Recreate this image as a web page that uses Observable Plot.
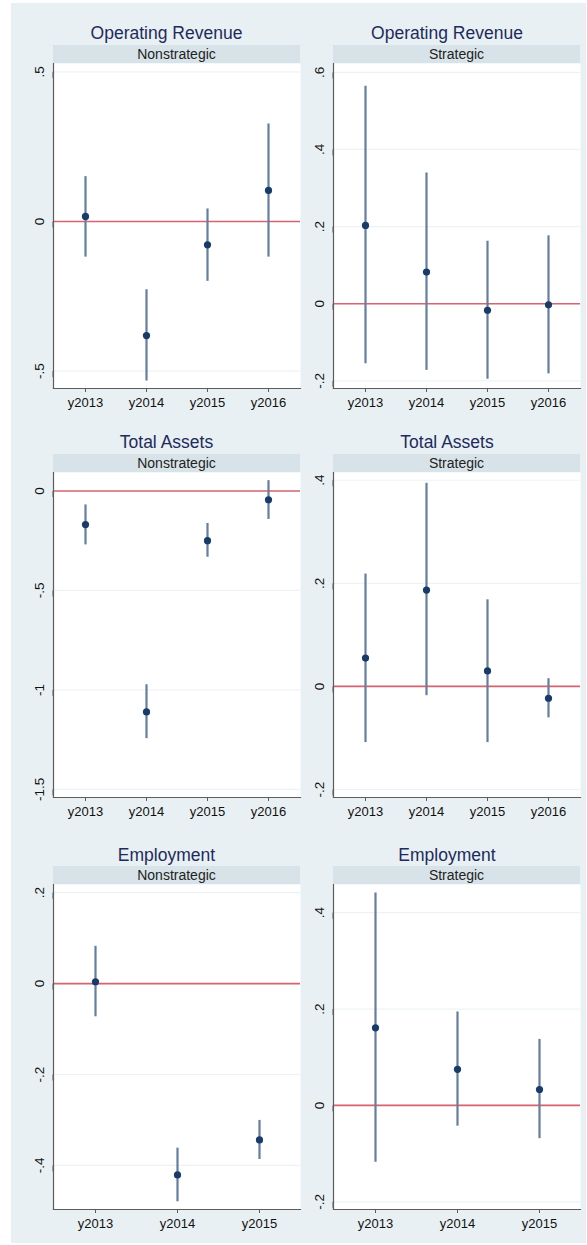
<!DOCTYPE html>
<html><head><meta charset="utf-8">
<script src="https://cdn.jsdelivr.net/npm/d3@7"></script>
<script src="https://cdn.jsdelivr.net/npm/@observablehq/plot@0.6"></script>
<style>
body{margin:0;background:#fff;font-family:"Liberation Sans",Arial,sans-serif;}
#root{position:relative;width:587px;height:1245px;overflow:hidden;}
#bg{position:absolute;left:11px;top:3px;width:575px;height:1240px;background:#e9f0f3;}
.title{position:absolute;width:320px;text-align:center;font-size:17.5px;line-height:20px;color:#1d2b5c;white-space:nowrap;}
.strip{position:absolute;height:18px;line-height:18px;text-align:center;font-size:14px;color:#222;background:#d8e3e9;white-space:nowrap;}
</style></head><body><div id="root"><div id="bg"></div></div>
<script>
// ---------- data ----------
const outcomes = ["Operating Revenue", "Total Assets", "Employment"];
const groups = ["Nonstrategic", "Strategic"];
const years4 = ["y2013", "y2014", "y2015", "y2016"];
const years3 = ["y2013", "y2014", "y2015"];

// Operating Revenue
const orNonEst = [0.017, -0.381, -0.078, 0.104];
const orNonLo  = [-0.119, -0.533, -0.200, -0.119];
const orNonHi  = [0.150, -0.228, 0.042, 0.326];
const orStrEst = [0.203, 0.082, -0.017, -0.003];
const orStrLo  = [-0.156, -0.173, -0.196, -0.182];
const orStrHi  = [0.564, 0.339, 0.162, 0.176];
// Total Assets
const taNonEst = [-0.169, -1.111, -0.250, -0.044];
const taNonLo  = [-0.271, -1.245, -0.333, -0.143];
const taNonHi  = [-0.070, -0.974, -0.163, 0.052];
const taStrEst = [0.055, 0.187, 0.030, -0.023];
const taStrLo  = [-0.109, -0.018, -0.109, -0.061];
const taStrHi  = [0.218, 0.394, 0.168, 0.015];
// Employment
const emNonEst = [0.004, -0.421, -0.344];
const emNonLo  = [-0.073, -0.480, -0.387];
const emNonHi  = [0.082, -0.362, -0.301];
const emStrEst = [0.161, 0.075, 0.033];
const emStrLo  = [-0.118, -0.043, -0.069];
const emStrHi  = [0.441, 0.194, 0.137];

// tick values and labels
const orNonTicks = [-0.5, 0, 0.5];           const orNonTickLabels = ["-.5", "0", ".5"];
const orStrTicks = [-0.2, 0, 0.2, 0.4, 0.6]; const orStrTickLabels = ["-.2", "0", ".2", ".4", ".6"];
const taNonTicks = [-1.5, -1, -0.5, 0];      const taNonTickLabels = ["-1.5", "-1", "-.5", "0"];
const taStrTicks = [-0.2, 0, 0.2, 0.4];      const taStrTickLabels = ["-.2", "0", ".2", ".4"];
const emNonTicks = [-0.4, -0.2, 0, 0.2];     const emNonTickLabels = ["-.4", "-.2", "0", ".2"];
const emStrTicks = [-0.2, 0, 0.2, 0.4];      const emStrTickLabels = ["-.2", "0", ".2", ".4"];

// ---------- layout ----------
const plotW = 247, plotH = 325, mL = 40, mB = 30;
const cols = [{left: 53, titleCx: 166.5}, {left: 333, titleCx: 447}];
const rows = [
  {titleTop: 23.2, stripTop: 45, plotTop: 63},
  {titleTop: 431.7, stripTop: 453.5, plotTop: 471.5},
  {titleTop: 845.2, stripTop: 866, plotTop: 884}
];

const panels = [
  {r: 0, c: 0, years: years4, est: orNonEst, lo: orNonLo, hi: orNonHi, ticks: orNonTicks, labels: orNonTickLabels, domain: [-0.558, 0.528]},
  {r: 0, c: 1, years: years4, est: orStrEst, lo: orStrLo, hi: orStrHi, ticks: orStrTicks, labels: orStrTickLabels, domain: [-0.22, 0.623]},
  {r: 1, c: 0, years: years4, est: taNonEst, lo: taNonLo, hi: taNonHi, ticks: taNonTicks, labels: taNonTickLabels, domain: [-1.541, 0.093]},
  {r: 1, c: 1, years: years4, est: taStrEst, lo: taStrLo, hi: taStrHi, ticks: taStrTicks, labels: taStrTickLabels, domain: [-0.2155, 0.415]},
  {r: 2, c: 0, years: years3, est: emNonEst, lo: emNonLo, hi: emNonHi, ticks: emNonTicks, labels: emNonTickLabels, domain: [-0.497, 0.218]},
  {r: 2, c: 1, years: years3, est: emStrEst, lo: emStrLo, hi: emStrHi, ticks: emStrTicks, labels: emStrTickLabels, domain: [-0.216, 0.4585]}
];

const root = document.getElementById("root");
const axisColor = "#5c5c5c";

for (const p of panels) {
  const row = rows[p.r], col = cols[p.c];
  const title = document.createElement("div");
  title.className = "title";
  title.textContent = outcomes[p.r];
  title.style.left = (col.titleCx - 160) + "px";
  title.style.top = row.titleTop + "px";
  root.appendChild(title);

  const strip = document.createElement("div");
  strip.className = "strip";
  strip.textContent = groups[p.c];
  strip.style.left = col.left + "px";
  strip.style.width = plotW + "px";
  strip.style.top = row.stripTop + "px";
  root.appendChild(strip);

  const data = p.years.map((y, i) => ({year: y, est: p.est[i], lo: p.lo[i], hi: p.hi[i]}));
  const fmt = new Map(p.ticks.map((t, i) => [t, p.labels[i]]));

  const svg = Plot.plot({
    width: mL + plotW, height: plotH + mB,
    marginLeft: mL, marginRight: 0, marginTop: 0, marginBottom: mB,
    style: {background: "transparent", overflow: "visible", fontFamily: "'Liberation Sans', Arial, sans-serif"},
    x: {type: "point", domain: p.years, padding: 0.5, label: null},
    y: {domain: p.domain, label: null},
    marks: [
      Plot.frame({fill: "white"}),
      Plot.gridY(p.ticks, {stroke: "#edf3f5", strokeOpacity: 1, strokeWidth: 1.2}),
      Plot.ruleY([0], {stroke: "#d6646f", strokeWidth: 1.6}),
      Plot.ruleX(data, {x: "year", y1: "lo", y2: "hi", stroke: "#647e9f", strokeWidth: 2.2}),
      Plot.dot(data, {x: "year", y: "est", r: 3.6, fill: "#183b69", stroke: null}),
      Plot.frame({anchor: "left", stroke: axisColor, strokeWidth: 1.2}),
      Plot.frame({anchor: "bottom", stroke: axisColor, strokeWidth: 1.2}),
      Plot.axisY(p.ticks, {tickFormat: d => fmt.get(d), rotate: -90, textAnchor: "middle", lineAnchor: "bottom",
        tickSize: 6, tickPadding: 3.5, fontSize: 13.5, fill: "#111", stroke: axisColor}),
      Plot.axisX({tickSize: 4, tickPadding: 5, fontSize: 13, fill: "#111", stroke: axisColor})
    ]
  });
  svg.style.position = "absolute";
  svg.style.left = (col.left - mL) + "px";
  svg.style.top = row.plotTop + "px";
  svg.style.maxWidth = "none";
  root.appendChild(svg);
}
</script></body></html>
